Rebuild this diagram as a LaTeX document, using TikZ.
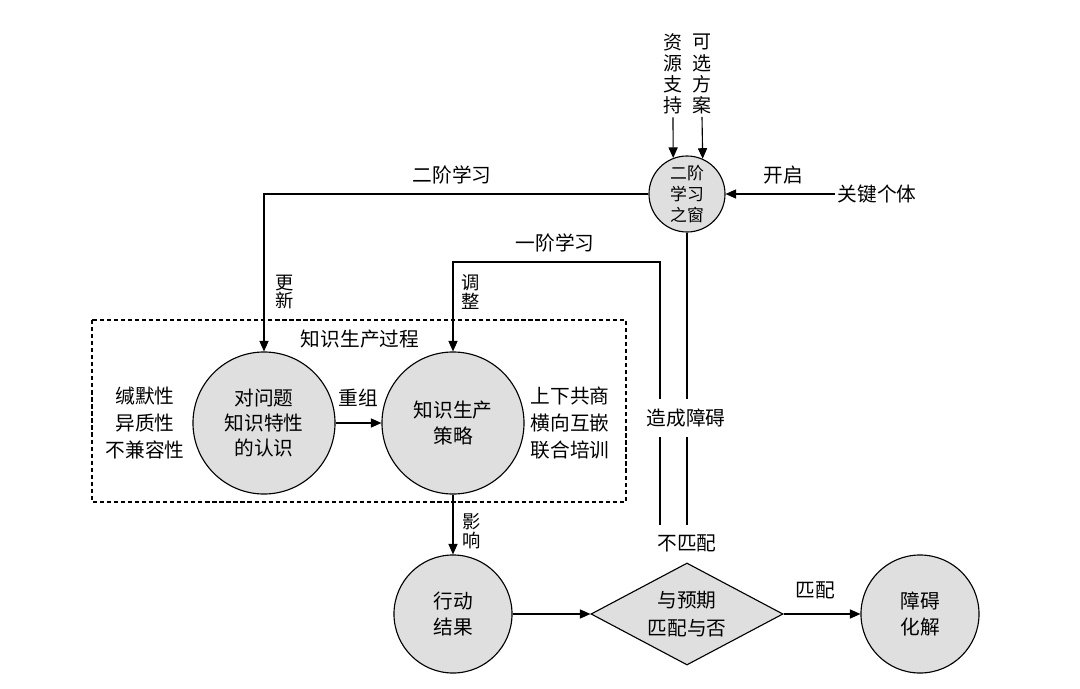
\documentclass[tikz,border=0pt]{standalone}
\usepackage{fontspec}
\setmainfont{Noto Sans CJK SC}
\usetikzlibrary{shapes.geometric,arrows.meta}
\begin{document}
\begin{tikzpicture}[x=0.025cm,y=-0.025cm,
  every node/.style={font=\fontsize{14pt}{18pt}\selectfont, inner sep=2pt},
  bub/.style={circle, draw, fill=gray!25, line width=0.8pt, inner sep=0pt, align=center},
  arr/.style={-{Triangle[length=7.5pt,width=6.5pt]}, line width=0.8pt},
  ln/.style={line width=0.8pt},
  vlab/.style={align=center, font=\fontsize{13.5pt}{15pt}\selectfont},
  vlabs/.style={align=center, font=\fontsize{13pt}{13.5pt}\selectfont},
  side/.style={align=center, font=\fontsize{14pt}{19.5pt}\selectfont},
  dbox/.style={line width=0.8pt, dash pattern=on 3pt off 2pt}]
\useasboundingbox (0,0) rectangle (1080,689);

% main nodes
\node[bub, minimum size=1.9cm, font=\fontsize{12pt}{15pt}\selectfont] (win) at (687,194) {二阶\\学习\\之窗};
\node[bub, minimum size=3.55cm, font=\fontsize{14pt}{17.5pt}\selectfont] (c1) at (264,423) {对问题\\知识特性\\的认识};
\node[bub, minimum size=3.55cm, font=\fontsize{14pt}{18.5pt}\selectfont] (c2) at (453,423) {知识生产\\策略};
\node[bub, minimum size=2.95cm, font=\fontsize{14pt}{19pt}\selectfont] (c3) at (453,614) {行动\\结果};
\node[diamond, draw, fill=gray!25, line width=0.8pt, inner sep=0pt, aspect=1.9,
      minimum width=4.8cm, minimum height=2.55cm, align=center,
      font=\fontsize{14pt}{19.5pt}\selectfont] (dia) at (687,614) {与预期\\匹配与否};
\node[bub, minimum size=2.95cm, font=\fontsize{14pt}{19pt}\selectfont] (c4) at (920,614) {障碍\\化解};

% top inputs
\node[vlab] (zy) at (673,74) {资\\源\\支\\持};
\node[vlab] (kx) at (702,74) {可\\选\\方\\案};
\node (kp) at (877,194) {关键个体};
\node (kq) at (783,175) {开启};

% labels
\node (l2) at (452,175) {二阶学习};
\node (l1) at (555,243) {一阶学习};
\node[vlabs] (gx) at (285,292) {更\\新};
\node[vlabs] (tz) at (471,292) {调\\整};
\node[vlabs] (yx) at (472,531) {影\\响};
\node (kpt) at (360,339) {知识生产过程};
\node[side] (lt) at (145,423) {缄默性\\异质性\\不兼容性};
\node[side] (rt) at (570,423) {上下共商\\横向互嵌\\联合培训};
\node (cz) at (358,398) {重组};
\node (pp) at (815,590) {匹配};
\node (bpp) at (687,543) {不匹配};

% dashed box
\draw[dbox] (92,320) rectangle (626,502);

% connectors
\draw[arr] (zy.south) -- (win.111.6);
\draw[arr] (kx.south) -- (win.66.75);
\draw[arr] (kp.west) -- (win.east);
\draw[arr] (win.west) -| (c1.north);
\coordinate (m1) at (660,525);
\coordinate (k1) at (660,262);
\coordinate (m2) at (687,525);
\draw[arr] (m1) -- (k1) -| (c2.north);
\draw[ln] (win.south) -- (m2);
\node[fill=white, inner xsep=1pt, inner ysep=0.25cm] (zc) at (686,418) {造成障碍};
\draw[arr] (c1.east) -- (c2.west);
\draw[arr] (c2.south) -- (c3.north);
\draw[arr] (c3.east) -- (dia.west);
\draw[arr] (dia.east) -- (c4.west);
\end{tikzpicture}
\end{document}
